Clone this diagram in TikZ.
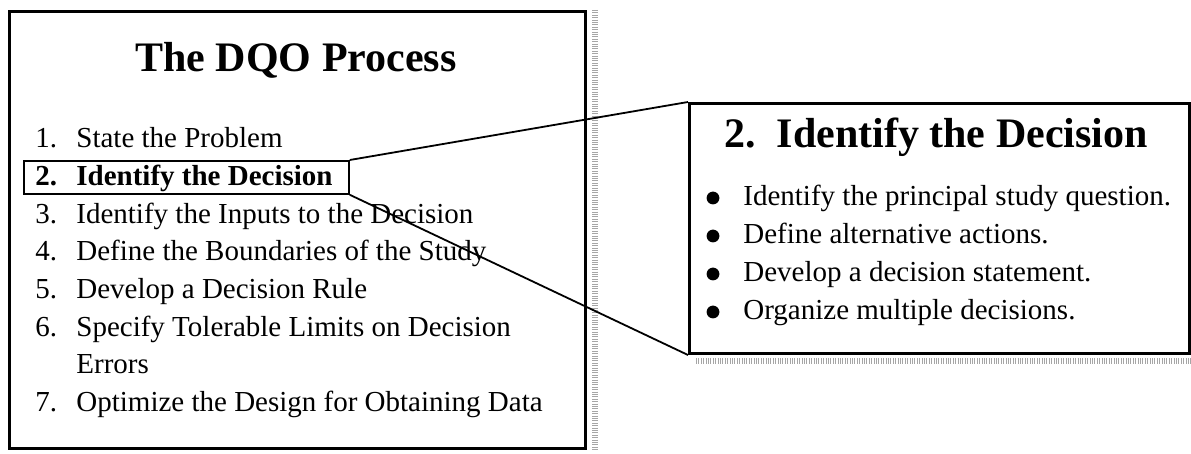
\documentclass[tikz,border=0pt]{standalone}
\usepackage{fontspec}
\setmainfont{Liberation Serif}
\begin{document}
\begin{tikzpicture}[x=0.5pt, y=-0.5pt,
  panel/.style={draw, line width=1.5pt, anchor=north west, inner sep=0pt},
  hlbox/.style={draw, line width=0.9pt, anchor=north west, inner sep=0pt},
  item/.style={anchor=base west, inner sep=0pt, font=\fontsize{14.5pt}{17pt}\selectfont},
  bolditem/.style={item, font=\fontsize{14.5pt}{17pt}\selectfont\bfseries},
  head/.style={anchor=base, inner sep=0pt, font=\fontsize{21pt}{25pt}\selectfont\bfseries},
  link/.style={line width=0.9pt},
  scanedge/.style={gray!70, line width=3pt, dash pattern=on 0.5pt off 0.7pt}]
\useasboundingbox (0,0) rectangle (1191,454);

\node[panel, minimum width=288pt, minimum height=218.5pt] (dqo) at (8,10) {};
\draw[scanedge] ([xshift=4pt]dqo.north east) -- ([xshift=4pt]dqo.south east);
\node[head] (dqotitle) at (296,72) {The DQO Process};

\foreach \n/\s/\t/\y in {
1/item/State the Problem/148,
2/bolditem/Identify the Decision/186,
3/item/Identify the Inputs to the Decision/224,
4/item/Define the Boundaries of the Study/261,
5/item/Develop a Decision Rule/299,
6/item/Specify Tolerable Limits on Decision/337,
7/item/Optimize the Design for Obtaining Data/412}
{\node[\s] (num\n) at (35,\y) {\n.};
 \node[\s] (step\n) at (76,\y) {\t};}
\node[item] (step6b) at (76,374) {Errors};
\node[hlbox, minimum width=162.5pt, minimum height=16.5pt] (hl) at (23,160) {};

\node[panel, minimum width=250pt, minimum height=125pt] (detail) at (688,102) {};
\draw[scanedge] ([xshift=4pt,yshift=-3pt]detail.south west) -- ([yshift=-3pt]detail.south east);
\node[head] (detailtitle) at (936,148) {2.\hspace{0.5em}Identify the Decision};

\foreach \t/\y [count=\i] in {
Identify the principal study question./206,
Define alternative actions./244,
Develop a decision statement./282,
Organize multiple decisions./320}
{\fill (713,\y-8) circle (3.2pt);
 \node[item] (task\i) at (743,\y) {\t};}

\draw[link] (hl.north east) -- (detail.north west);
\draw[link] (hl.south east) -- (detail.south west);
\end{tikzpicture}
\end{document}
